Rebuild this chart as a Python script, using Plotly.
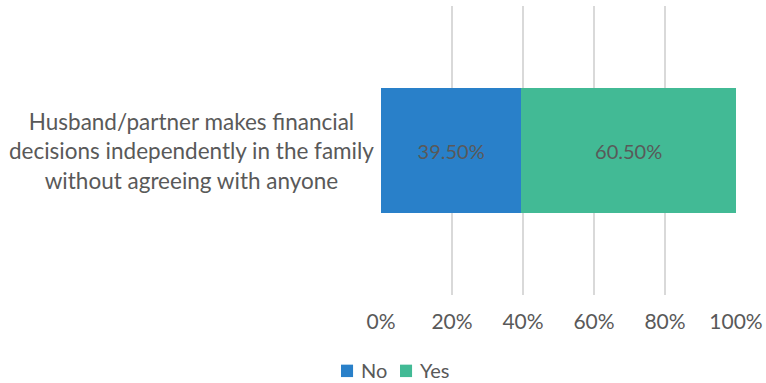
import plotly.graph_objects as go

category = "Husband/partner makes financial<br>decisions independently in the family<br>without agreeing with anyone"
series_names = ["No", "Yes"]
series_values = [39.5, 60.5]
series_colors = ["#2980C9", "#42BA95"]
tick_vals = [0, 20, 40, 60, 80, 100]
tick_text = ["0%", "20%", "40%", "60%", "80%", "100%"]

FONT = "Lato"
TEXT = "#595959"

fig = go.Figure()
for name, val, col in zip(series_names, series_values, series_colors):
    fig.add_trace(go.Bar(
        y=["cat"], x=[val], name=name, orientation="h",
        marker=dict(color=col, line=dict(width=0)),
        text=[f"{val:.2f}%"], textposition="inside", insidetextanchor="middle",
        textfont=dict(family=FONT, size=20, color=TEXT),
        showlegend=False,
    ))

# Legend drawn below the axis: a colour key square followed by its name
legend_key_x = [-0.1127, 0.0535]
legend_key_w = 0.034
legend_text_x = [-0.062, 0.104]
shapes = []
annotations = []
for name, col, kx, tx in zip(series_names, series_colors, legend_key_x, legend_text_x):
    shapes.append(dict(type="rect", xref="paper", yref="paper",
                       x0=kx, x1=kx + legend_key_w, y0=-0.284, y1=-0.241,
                       fillcolor=col, line=dict(width=0)))
    annotations.append(dict(text=name, xref="paper", yref="paper",
                            x=tx, y=-0.258, xanchor="left", yanchor="middle",
                            showarrow=False,
                            font=dict(family=FONT, size=20, color=TEXT)))

annotations.append(dict(text=category, xref="paper", yref="paper",
                        x=-0.535, y=0.5, xanchor="center", yanchor="middle",
                        align="center", showarrow=False,
                        font=dict(family=FONT, size=22.5, color=TEXT)))

fig.update_layout(
    barmode="stack",
    bargap=0.57,
    width=766, height=383,
    margin=dict(l=381, r=30, t=6, b=88, autoexpand=False),
    paper_bgcolor="white", plot_bgcolor="white",
    font=dict(family=FONT, size=20, color=TEXT),
    showlegend=False,
    xaxis=dict(range=[0, 100], tickvals=tick_vals, ticktext=tick_text,
               showgrid=True, gridcolor="#D9D9D9", gridwidth=1.5,
               zeroline=False, showline=False, ticks="", automargin=False,
               ticklabelstandoff=12,
               tickfont=dict(family=FONT, size=21, color=TEXT)),
    yaxis=dict(showticklabels=False, showgrid=False, zeroline=False,
               showline=False, automargin=False),
    shapes=shapes,
    annotations=annotations,
)
fig.write_html("out.html")
